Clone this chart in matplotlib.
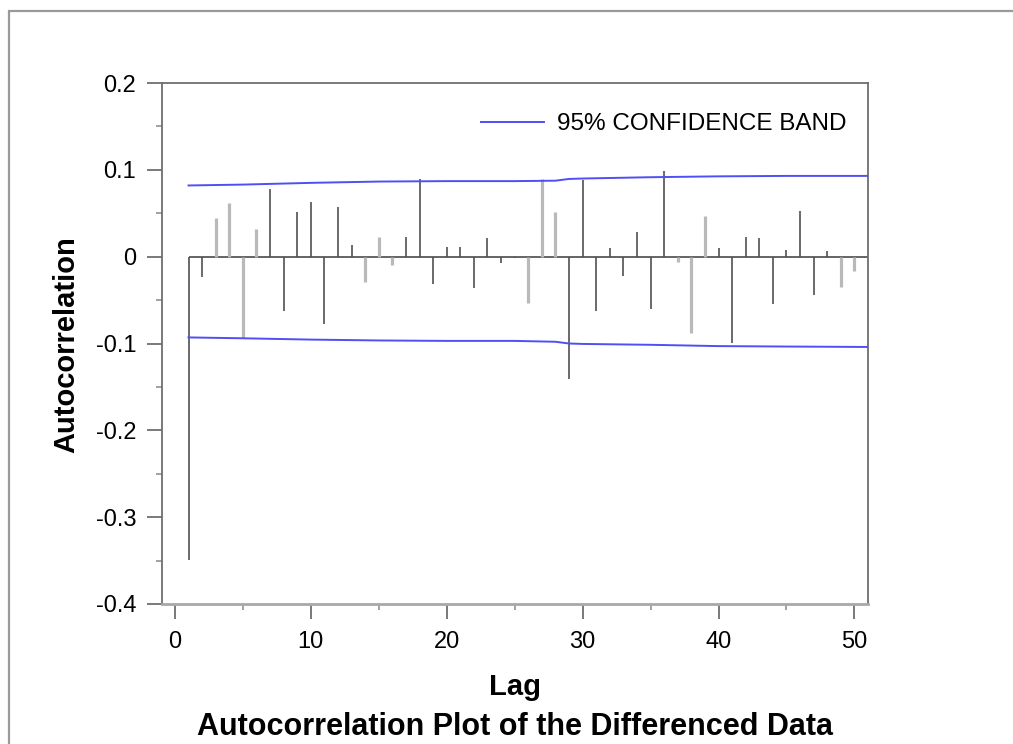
import matplotlib
matplotlib.use("Agg")
import matplotlib.pyplot as plt
from matplotlib.patches import Rectangle
from matplotlib.ticker import MultipleLocator

# Autocorrelation of the differenced series, lags 1..50
lags = list(range(1, 51))
acf = [
    -0.349, -0.023, 0.044, 0.062, -0.094, 0.032, 0.078, -0.063, 0.051, 0.063,
    -0.078, 0.057, 0.014, -0.029, 0.023, -0.010, 0.023, 0.089, -0.032, 0.011,
    0.011, -0.036, 0.021, -0.007, -0.001, -0.053, 0.089, 0.051, -0.141, 0.088,
    -0.063, 0.010, -0.022, 0.028, -0.060, 0.099, -0.006, -0.088, 0.047, 0.010,
    -0.099, 0.023, 0.022, -0.054, 0.008, 0.053, -0.044, 0.007, -0.035, -0.017,
]

# 95% confidence band (upper / lower) at selected lags
band_lags = [1, 5, 10, 15, 20, 25, 28, 29, 30, 35, 40, 45, 51]
band_upper = [0.082, 0.083, 0.085, 0.0865, 0.087, 0.087, 0.0875, 0.0895,
              0.090, 0.0915, 0.0925, 0.093, 0.093]
band_lower = [-0.093, -0.094, -0.0955, -0.0965, -0.097, -0.097, -0.098,
              -0.100, -0.1005, -0.1015, -0.103, -0.1035, -0.104]

x_ticks = [0, 10, 20, 30, 40, 50]
y_ticks = [0.2, 0.1, 0.0, -0.1, -0.2, -0.3, -0.4]
y_tick_labels = ["0.2", "0.1", "0", "-0.1", "-0.2", "-0.3", "-0.4"]

# lags whose spikes render as softer, wider strokes
soft_lags = {3, 4, 5, 6, 14, 15, 16, 26, 27, 28, 37, 38, 39, 49, 50}

FONT = ["Liberation Sans", "DejaVu Sans"]
plt.rcParams["font.family"] = FONT

W, H = 1013, 744
fig = plt.figure(figsize=(W / 100, H / 100), dpi=100)
fig.patch.set_facecolor("white")

# outer frame
fig.patches.append(Rectangle((9 / W, -0.05), 1.2, (H - 11) / H + 0.05,
                             transform=fig.transFigure, fill=False,
                             edgecolor="#9a9a9a", linewidth=1.6, zorder=0))

left, right, top, bottom = 162, 868, 83, 604
ax = fig.add_axes([left / W, (H - bottom) / H, (right - left) / W, (bottom - top) / H])
ax.set_xlim(-0.95, 51)
ax.set_ylim(-0.4, 0.2)

# zero reference line
ax.hlines(0, 1, 51, color="#4a4a4a", linewidth=1.2, zorder=2)

# autocorrelation spikes
for lag, r in zip(lags, acf):
    if lag in soft_lags:
        ax.vlines(lag, 0, r, color="#b9b9b9", linewidth=2.3, zorder=3)
    else:
        ax.vlines(lag, 0, r, color="#505050", linewidth=1.2, zorder=3)

# confidence band
band_color = "#4f4ff5"
ax.plot(band_lags, band_upper, color=band_color, linewidth=1.4, zorder=4,
        label="95% CONFIDENCE BAND")
ax.plot(band_lags, band_lower, color=band_color, linewidth=1.4, zorder=4)

# spines
for side in ["left", "top", "right"]:
    ax.spines[side].set_color("#6e6e6e")
    ax.spines[side].set_linewidth(1.3)
ax.spines["bottom"].set_color("#a8a8a8")
ax.spines["bottom"].set_linewidth(2.0)

# ticks
ax.set_xticks(x_ticks)
ax.set_xticklabels([str(t) for t in x_ticks])
ax.xaxis.set_minor_locator(MultipleLocator(5))
ax.set_yticks(y_ticks)
ax.set_yticklabels(y_tick_labels)
ax.yaxis.set_minor_locator(MultipleLocator(0.05))
ax.tick_params(axis="both", which="major", direction="out", length=10.5,
               width=1.1, color="#555555", labelsize=17, labelcolor="black")
ax.tick_params(axis="both", which="minor", direction="out", length=4,
               width=1.1, color="#888888")
ax.tick_params(axis="x", which="major", pad=9)
ax.tick_params(axis="y", which="major", pad=8)

# legend
leg = ax.legend(loc="upper right", frameon=False, fontsize=17.5,
                handlelength=2.6, handletextpad=0.5,
                bbox_to_anchor=(1.0, 0.984))

# labels and title
fig.text(66 / W, 1 - 345 / H, "Autocorrelation", rotation=90, ha="center",
         va="center", fontsize=21, fontweight="bold")
fig.text(515 / W, 1 - 687 / H, "Lag", ha="center", va="center",
         fontsize=21, fontweight="bold")
fig.text(515 / W, 1 - 727 / H, "Autocorrelation Plot of the Differenced Data",
         ha="center", va="center", fontsize=22, fontweight="bold")

fig.savefig("out.png", dpi=100)
